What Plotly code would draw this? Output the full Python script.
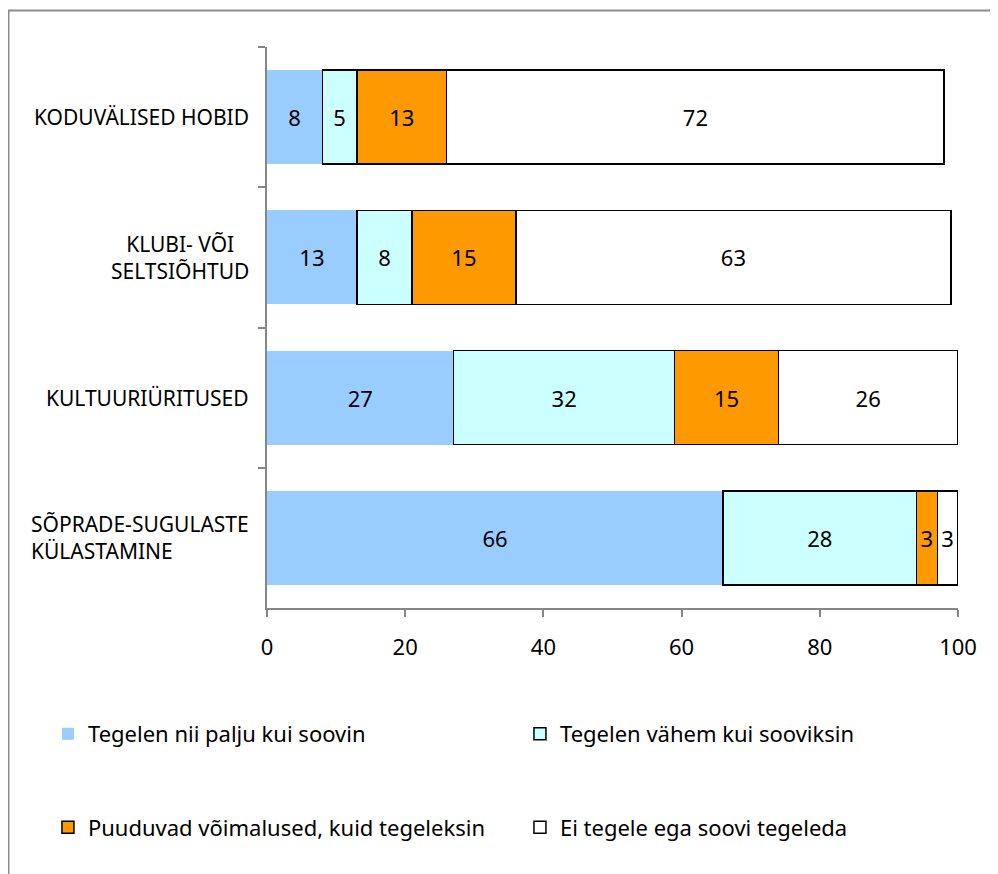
import plotly.graph_objects as go

categories = ["KODUVÄLISED HOBID", "KLUBI- VÕI<br>SELTSIÕHTUD",
              "KULTUURIÜRITUSED", "SÕPRADE-SUGULASTE<br>KÜLASTAMINE"]
label_align = ["center", "center", "center", "left"]

series_names = ["Tegelen nii palju kui soovin", "Tegelen vähem kui sooviksin",
                "Puuduvad võimalused, kuid tegeleksin", "Ei tegele ega soovi tegeleda"]
tegelen_palju = [8, 13, 27, 66]
tegelen_vahem = [5, 8, 32, 28]
puuduvad = [13, 15, 15, 3]
ei_tegele = [72, 63, 26, 3]

x_ticks = [0, 20, 40, 60, 80, 100]

colors = ["#99CCFF", "#CCFFFF", "#FF9900", "#FFFFFF"]
outline = [0, 1.5, 1.5, 1.5]
legends = ["legend", "legend", "legend2", "legend2"]

FONT = "Noto Sans"
# page body has an 8px margin, so the figure is sized/offset for it
W, H = 990, 866
L, T, PW, PH = 259, 39, 691, 561

fig = go.Figure()
for name, vals, col, lw, lg in zip(series_names,
                                   [tegelen_palju, tegelen_vahem, puuduvad, ei_tegele],
                                   colors, outline, legends):
    fig.add_trace(go.Bar(
        y=categories, x=vals, name=name, orientation="h",
        marker=dict(color=col, line=dict(color="black", width=lw)),
        text=[str(v) for v in vals], textposition="inside",
        insidetextanchor="middle", textangle=0,
        textfont=dict(family=FONT, size=22, color="black"),
        legend=lg,
    ))

# category labels (per-line alignment as in the original)
for cat, al in zip(categories, label_align):
    fig.add_annotation(x=-0.023, xref="paper", y=cat, yref="y",
                       text=cat, showarrow=False, xanchor="right",
                       align=al, font=dict(family=FONT, size=21, color="black"))

# outer chart frame (right and bottom edges fall outside the picture)
fig.add_shape(type="rect", xref="paper", yref="paper",
              x0=(0.5 - L) / PW, x1=1.2, y0=-1.0, y1=(PH + T - 2.5) / PH,
              line=dict(color="#8c8c8c", width=2), layer="below")

axis_col = "#868686"
fig.update_layout(
    width=W, height=H,
    margin=dict(l=L, r=W - L - PW, t=T, b=H - T - PH),
    plot_bgcolor="white", paper_bgcolor="white",
    barmode="stack", bargap=0.33,
    font=dict(family=FONT, size=22, color="black"),
    uniformtext=dict(minsize=22, mode="show"),
    xaxis=dict(range=[0, 100], tickvals=x_ticks, showgrid=False, zeroline=False,
               showline=True, linecolor=axis_col, linewidth=1.5,
               ticks="outside", ticklen=7, tickcolor=axis_col, tickwidth=1.5,
               ticklabelstandoff=12, tickfont=dict(size=22)),
    yaxis=dict(categoryorder="array", categoryarray=categories, autorange="reversed",
               showgrid=False, zeroline=False, showline=True, linecolor=axis_col,
               linewidth=1.5, ticks="outside", ticklen=7, tickcolor=axis_col,
               tickwidth=1.5, tickson="boundaries", showticklabels=False),
    legend=dict(orientation="h", x=-0.317, y=-0.2246, xanchor="left", yanchor="middle",
                traceorder="normal", entrywidth=427, entrywidthmode="pixels",
                font=dict(size=22)),
    legend2=dict(orientation="h", x=-0.317, y=-0.391, xanchor="left", yanchor="middle",
                 traceorder="normal", entrywidth=427, entrywidthmode="pixels",
                 font=dict(size=22)),
)

fig.write_html("out.html")
